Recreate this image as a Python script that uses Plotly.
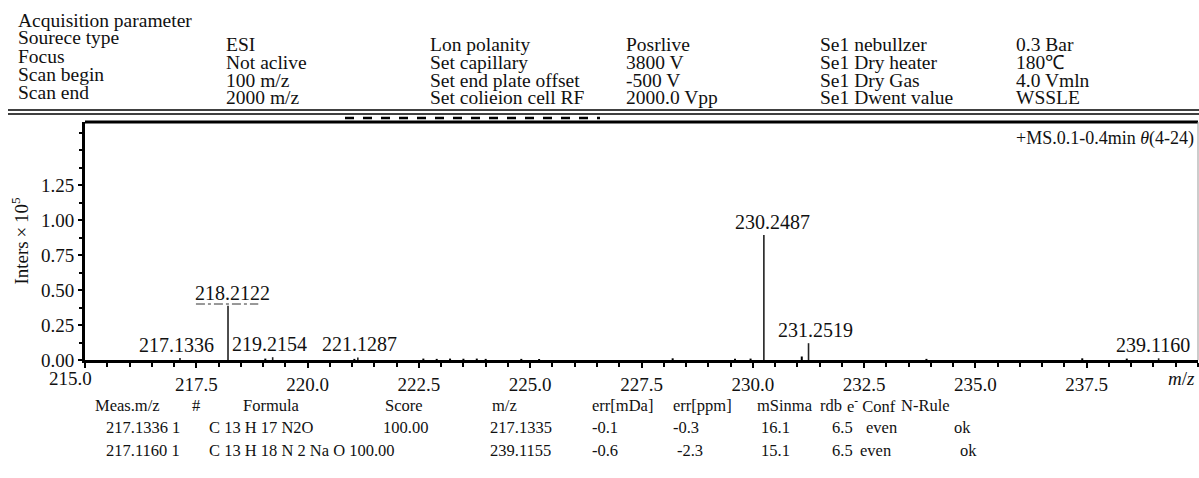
import plotly.graph_objects as go

# ---------------- data ----------------
peak_mz = [217.1336, 218.2122, 219.2154, 221.1287, 230.2487, 231.2519, 239.1160]
peak_int = [0.015, 0.388, 0.020, 0.018, 0.893, 0.120, 0.012]
peak_labels = ["217.1336", "218.2122", "219.2154", "221.1287", "230.2487", "231.2519", "239.1160"]

noise_mz = [219.05, 221.05, 222.6, 222.9, 223.2, 223.5, 223.8, 224.0, 224.8, 225.2,
            228.2, 229.6, 229.95, 231.1, 233.9, 237.4, 238.4]
noise_int = [0.010, 0.008, 0.010, 0.008, 0.010, 0.009, 0.010, 0.008, 0.008, 0.007,
             0.012, 0.009, 0.010, 0.025, 0.008, 0.012, 0.010]

x_ticks = [215.0, 217.5, 220.0, 222.5, 225.0, 227.5, 230.0, 232.5, 235.0, 237.5]
y_ticks = [0.00, 0.25, 0.50, 0.75, 1.00, 1.25]

header_labels = ["Sourece type", "Focus", "Scan begin", "Scan end"]
header_col2 = ["ESI", "Not aclive", "100 m/z", "2000 m/z"]
header_col3 = ["Lon polanity", "Set capillary", "Set end plate offset", "Set colieion cell RF"]
header_col4 = ["Posrlive", "3800 V", "-500 V", "2000.0 Vpp"]
header_col5 = ["Se1 nebullzer", "Se1 Dry heater", "Se1 Dry Gas", "Se1 Dwent value"]
header_col6 = ["0.3 Bar", "180℃", "4.0 Vmln", "WSSLE"]

table_head = ["Meas.m/z", "#", "Formula", "Score", "m/z", "err[mDa]", "err[ppm]",
              "mSinma", "rdb", "e<sup>-</sup> Conf", "N-Rule"]
table_row1 = ["217.1336 1", "C 13 H 17 N2O", "100.00", "217.1335", "-0.1", "-0.3",
              "16.1", "6.5", "even", "ok"]
table_row2 = ["217.1160 1", "C 13 H 18 N 2 Na O 100.00", "", "239.1155", "-0.6", "-2.3",
              "15.1", "6.5", "even", "ok"]

# ---------------- layout geometry ----------------
W, H = 1199, 478
ML, MR, MT, MB = 85, 1, 122, 118
PW = W - ML - MR
PH = H - MT - MB
FONT = "Liberation Serif, Times New Roman, serif"


def px(x):
    return (x - ML) / PW


def py(y):
    return (H - MB - y) / PH


fig = go.Figure()


def sticks(mz, inten):
    xs, ys = [], []
    for m, v in zip(mz, inten):
        xs += [m, m, None]
        ys += [0, v, None]
    return xs, ys


nx, ny = sticks(noise_mz, noise_int)
fig.add_trace(go.Scatter(x=nx, y=ny, mode="lines", line=dict(color="black", width=2),
                         hoverinfo="skip", showlegend=False))
sx, sy = sticks(peak_mz, peak_int)
fig.add_trace(go.Scatter(x=sx, y=sy, mode="lines", line=dict(color="#222", width=1.6),
                         showlegend=False))

annotations = []
shapes = []
label_shift = {"217.1336": -3, "218.2122": 4, "219.2154": -3, "221.1287": 2,
               "230.2487": 9, "231.2519": 7, "239.1160": -6}
for m, v, t in zip(peak_mz, peak_int, peak_labels):
    annotations.append(dict(x=m, y=v, xref="x", yref="y", text=t, showarrow=False,
                            yanchor="bottom", xanchor="center", xshift=label_shift[t], yshift=0,
                            font=dict(family=FONT, size=20, color="#111")))
    if t == "218.2122":
        shapes.append(dict(type="line", xref="x", yref="y", x0=m - 0.72, x1=m + 0.68,
                           y0=v + 0.012, y1=v + 0.012,
                           line=dict(color="#333", width=1, dash="dashdot")))

annotations.append(dict(x=px(1196), y=py(138), xref="paper", yref="paper",
                        text="+MS.0.1-0.4min <i>θ</i>(4-24)", showarrow=False,
                        xanchor="right", yanchor="middle",
                        font=dict(family=FONT, size=18, color="#111")))
annotations.append(dict(x=px(1197), y=py(378), xref="paper", yref="paper",
                        text="<i>m</i>/<i>z</i>", showarrow=False,
                        xanchor="right", yanchor="middle",
                        font=dict(family=FONT, size=19, color="#111")))
# first x tick label sits left of the y axis line
annotations.append(dict(x=x_ticks[0], y=py(378), xref="x", yref="paper",
                        text=f"{x_ticks[0]:.1f}", showarrow=False, xshift=-15,
                        xanchor="center", yanchor="middle",
                        font=dict(family=FONT, size=19, color="#111")))

# header
hdr_font = dict(family=FONT, size=19.5, color="#111")
annotations.append(dict(x=px(16), y=py(21), xref="paper", yref="paper",
                        text="Acquisition parameter", showarrow=False,
                        xanchor="left", yanchor="middle", font=hdr_font))
cols = [(16, header_labels, 0), (224, header_col2, 6), (428, header_col3, 6),
        (624, header_col4, 6), (818, header_col5, 6), (1014, header_col6, 6)]
for x0, vals, dy in cols:
    for i, t in enumerate(vals):
        annotations.append(dict(x=px(x0), y=py(38 + 18 * i + dy), xref="paper", yref="paper",
                                text=t, showarrow=False, xanchor="left", yanchor="middle",
                                font=hdr_font))

# table
tab_font = dict(family=FONT, size=16.5, color="#111")
head_x = [93, 190, 241, 383, 490, 590, 671, 755, 818, 845, 899]
for x0, t in zip(head_x, table_head):
    annotations.append(dict(x=px(x0), y=py(405), xref="paper", yref="paper", text=t,
                            showarrow=False, xanchor="left", yanchor="middle", font=tab_font))
row1_x = [104, 207, 381, 488, 590, 671, 759, 830, 864, 952]
row2_x = [104, 207, 381, 488, 590, 675, 759, 830, 858, 958]
for xs_, row, yy in [(row1_x, table_row1, 428), (row2_x, table_row2, 450)]:
    for x0, t in zip(xs_, row):
        if t:
            annotations.append(dict(x=px(x0), y=py(yy), xref="paper", yref="paper", text=t,
                                    showarrow=False, xanchor="left", yanchor="middle",
                                    font=tab_font))

shapes += [
    dict(type="line", xref="paper", yref="paper", x0=px(8), x1=px(1199), y0=py(110), y1=py(110),
         line=dict(color="black", width=1.5)),
    dict(type="line", xref="paper", yref="paper", x0=px(8), x1=px(1199), y0=py(114), y1=py(114),
         line=dict(color="black", width=1.5)),
    # dark scan artefacts between the rule and the frame
    dict(type="line", xref="paper", yref="paper", x0=px(345), x1=px(600), y0=py(118), y1=py(118),
         line=dict(color="black", width=2.5, dash="dash")),
    dict(type="line", xref="paper", yref="paper", x0=0, x1=1, y0=1, y1=1,
         line=dict(color="black", width=3)),
    dict(type="line", xref="paper", yref="paper", x0=1, x1=1, y0=0, y1=1,
         line=dict(color="#999", width=1)),
]

fig.update_layout(
    width=W, height=H,
    margin=dict(l=ML, r=MR, t=MT, b=MB),
    paper_bgcolor="white", plot_bgcolor="white",
    font=dict(family=FONT, color="#111"),
    showlegend=False,
    annotations=annotations,
    shapes=shapes,
    xaxis=dict(range=[215, 240.0], tickvals=x_ticks,
               ticktext=[""] + [f"{v:.1f}" for v in x_ticks[1:]],
               ticks="outside", ticklen=5, tickwidth=2, tickcolor="black",
               minor=dict(dtick=0.5, tick0=215, ticks="outside", ticklen=4, tickwidth=2, tickcolor="black"),
               showline=True, linecolor="black", linewidth=3, showgrid=False, zeroline=False,
               tickfont=dict(family=FONT, size=19, color="#111"), fixedrange=True),
    yaxis=dict(range=[0, 1.7], tickvals=y_ticks, ticktext=[f"{v:.2f}" for v in y_ticks],
               ticks="outside", ticklen=4, tickwidth=2, tickcolor="black",
               minor=dict(dtick=0.125, ticks="outside", ticklen=3, tickwidth=2, tickcolor="black"),
               showline=True, linecolor="black", linewidth=3, showgrid=False, zeroline=False,
               tickfont=dict(family=FONT, size=19, color="#111"),
               title=dict(text="Inters\u2009×\u200910<sup>5</sup>", standoff=8,
                          font=dict(family=FONT, size=19, color="#111")), fixedrange=True),
)

fig.write_html("out.html", config={"displayModeBar": False},
               post_script="document.body.style.margin='0';document.body.style.overflow='hidden';")
